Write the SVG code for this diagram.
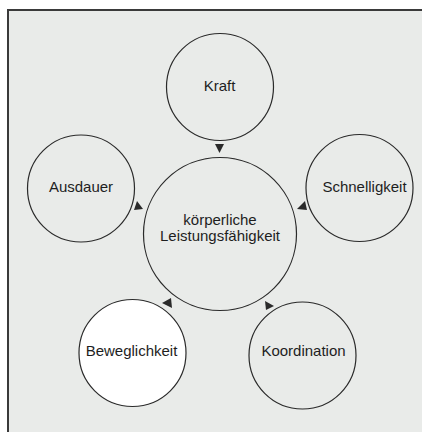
<svg xmlns="http://www.w3.org/2000/svg" width="422" height="432" viewBox="0 0 422 432">
<style>
.n{fill:none;stroke:#2a2a2a;stroke-width:1.2}
.w{fill:#ffffff}
.t{font-family:"Liberation Sans",Arial,sans-serif;font-size:15px;fill:#1e1e1e;text-anchor:middle}
.a{fill:#2a2a2a}
</style>
<rect x="0" y="0" width="422" height="432" fill="#ffffff"/>
<rect x="8" y="10" width="414" height="422" fill="#e9ebe9"/>
<path d="M8 432 V10 H422" fill="none" stroke="#3a3a3a" stroke-width="2"/>
<g id="connectors">
<polygon class="a" points="215,144 224,144 219.5,153"/>
<polygon class="a" points="137,201 143,209 134,210"/>
<polygon class="a" points="305,201 307,210 297,209"/>
<polygon class="a" points="162,303 171,298 172,308"/>
<polygon class="a" points="265,301 266,310 274,306"/>
</g>
<g id="center">
<circle class="n" cx="220" cy="234" r="76.5"/>
<text class="t" x="220" y="225">körperliche</text>
<text class="t" x="220" y="241">Leistungsfähigkeit</text>
</g>
<g id="kraft">
<circle class="n" cx="220" cy="87" r="53.5"/>
<text class="t" x="219.5" y="91">Kraft</text>
</g>
<g id="ausdauer">
<circle class="n" cx="81" cy="188.5" r="53.5"/>
<text class="t" x="81" y="192">Ausdauer</text>
</g>
<g id="schnelligkeit">
<circle class="n" cx="359.5" cy="188" r="53.5"/>
<text class="t" x="364.5" y="192">Schnelligkeit</text>
</g>
<g id="beweglichkeit">
<circle class="n w" cx="132.5" cy="353" r="53.5"/>
<text class="t" x="131.5" y="356">Beweglichkeit</text>
</g>
<g id="koordination">
<circle class="n" cx="302.5" cy="355.5" r="53.5"/>
<text class="t" x="303.5" y="356">Koordination</text>
</g>
</svg>
